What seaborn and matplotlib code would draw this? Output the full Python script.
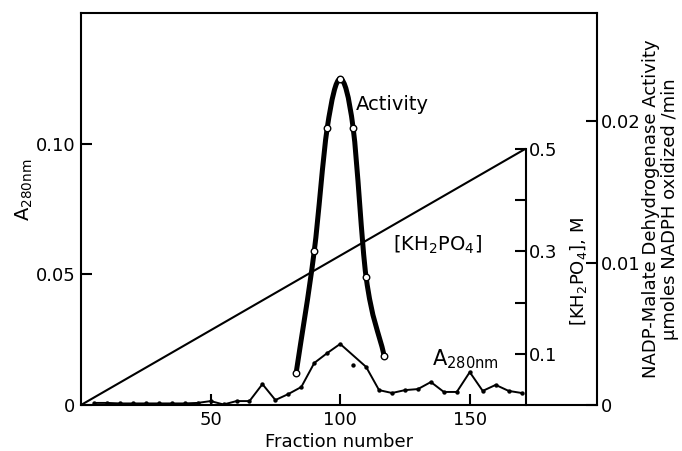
import numpy as np
import pandas as pd
import matplotlib
matplotlib.use("Agg")
import matplotlib.pyplot as plt
from matplotlib.path import Path
from matplotlib.patches import PathPatch
import seaborn as sns

# ---------------- data ----------------
a280_fraction = [5, 10, 15, 20, 25, 30, 35, 40, 45, 50, 55, 60, 65, 70, 75, 80, 85,
                 90, 95, 100, 105, 110, 115, 120, 125, 130, 135, 140, 145, 150,
                 155, 160, 165, 170]
a280_value = [0.0008, 0.0008, 0.0006, 0.0006, 0.0006, 0.0006, 0.0006, 0.0006, 0.0008,
              0.0015, 0.0002, 0.0015, 0.0015, 0.0080, 0.0019, 0.0042, 0.0069,
              0.0161, 0.0199, 0.0234, 0.0153, 0.0146, 0.0057, 0.0046, 0.0057,
              0.0061, 0.0088, 0.0050, 0.0050, 0.0126, 0.0054, 0.0077, 0.0054, 0.0046]
a280_outliers = [105]          # dot drawn off the hand-drawn A280 line

activity_fraction = [83, 90, 95, 100, 105, 110, 117]
activity_value = [0.00225, 0.01084, 0.01949, 0.02294, 0.01949, 0.00900, 0.00345]

salt_fraction = [0, 171.4]
salt_molar = [0.0, 0.5]

x_ticks = [50, 100, 150]
a280_ticks = [0, 0.05, 0.10]
a280_ticklabels = ["0", "0.05", "0.10"]
salt_ticks = [0.1, 0.2, 0.3, 0.4, 0.5]
salt_ticklabels = ["0.1", "", "0.3", "", "0.5"]
act_ticks = [0, 0.01, 0.02]
act_ticklabels = ["0", "0.01", "0.02"]

# ---------------- style ----------------
sns.set_style("ticks")
plt.rcParams["font.family"] = ["DejaVu Sans"]
plt.rcParams["mathtext.fontset"] = "dejavusans"
plt.rcParams["axes.linewidth"] = 1.5
for key in ("text.color", "axes.labelcolor", "xtick.color", "ytick.color",
            "xtick.labelcolor", "ytick.labelcolor", "axes.edgecolor"):
    plt.rcParams[key] = "black"
FS = 13

fig = plt.figure(figsize=(6.82, 4.51), dpi=100)
ax = fig.add_axes([0.1188, 0.102, 0.7562, 0.8698])
ax_salt = ax.twinx()
ax_act = ax.twinx()

# ---------------- marks ----------------
# salt gradient
sns.lineplot(x=salt_fraction, y=salt_molar, ax=ax_salt, color="black", lw=1.5)

# A280 line and dots
a280 = pd.DataFrame({"fraction": a280_fraction, "value": a280_value})
line_df = a280[~a280["fraction"].isin(a280_outliers)]
sns.lineplot(data=line_df, x="fraction", y="value", ax=ax, color="black", lw=1.4,
             sort=True)
sns.scatterplot(data=a280, x="fraction", y="value", ax=ax, color="black", s=10,
                edgecolor="black", linewidth=0, zorder=4)

# activity: smooth thick curve (cubic Hermite segments) through the measured points
px = np.asarray(activity_fraction, float)
py = np.asarray(activity_value, float)
n = len(px)
slope = np.empty(n)
slope[1:-1] = (py[2:] - py[:-2]) / (px[2:] - px[:-2])
slope[0] = (py[1] - py[0]) / (px[1] - px[0])
slope[-1] = (py[-1] - py[-2]) / (px[-1] - px[-2])
verts = [(px[0], py[0])]
codes = [Path.MOVETO]
for i in range(n - 1):
    h = px[i + 1] - px[i]
    verts += [(px[i] + h / 3, py[i] + slope[i] * h / 3),
              (px[i + 1] - h / 3, py[i + 1] - slope[i + 1] * h / 3),
              (px[i + 1], py[i + 1])]
    codes += [Path.CURVE4, Path.CURVE4, Path.CURVE4]
ax_act.add_patch(PathPatch(Path(verts, codes), fill=False, lw=3.6, color="black",
                           capstyle="round", transform=ax_act.transData, zorder=3))
sns.scatterplot(x=activity_fraction, y=activity_value, ax=ax_act, s=22,
                facecolor="white", edgecolor="black", linewidth=1.0, zorder=5)

# ---------------- axes styling ----------------
for a in (ax, ax_salt, ax_act):
    a.patch.set_visible(False)
    a.set_xlabel("")
    a.set_ylabel("")
    for s in a.spines.values():
        s.set_linewidth(1.5)
        s.set_color("black")

# main axis (A280)
ax.set_xlim(0, 199)
ax.set_ylim(0, 0.1503)
ax.set_xticks(x_ticks)
ax.set_xticklabels([str(t) for t in x_ticks])
ax.set_yticks(a280_ticks)
ax.set_yticklabels(a280_ticklabels)
ax.tick_params(direction="in", length=8, width=1.5, labelsize=FS, pad=4,
               colors="black")
ax.spines["right"].set_visible(False)
ax.set_xlabel("Fraction number", fontsize=FS, labelpad=3, color="black")

# salt gradient axis (inner right spine)
ax_salt.set_ylim(0, 0.766)
ax_salt.spines["right"].set_position(("axes", 0.8623))
ax_salt.spines["right"].set_bounds(0, 0.5)
for k in ("left", "top", "bottom"):
    ax_salt.spines[k].set_visible(False)
ax_salt.set_yticks(salt_ticks)
ax_salt.set_yticklabels(salt_ticklabels)
ax_salt.tick_params(axis="y", direction="in", length=8, width=1.5, labelsize=FS, pad=2,
                    colors="black")

# activity axis (outer right spine)
ax_act.set_ylim(0, 0.0276)
for k in ("left", "top", "bottom"):
    ax_act.spines[k].set_visible(False)
ax_act.set_yticks(act_ticks)
ax_act.set_yticklabels(act_ticklabels)
ax_act.tick_params(axis="y", direction="in", length=8, width=1.5, labelsize=FS, pad=3,
                   colors="black")

# axis titles placed as rotated text (centred on their columns)
ax.text(-0.11, 0.55, r"$\mathrm{A}_{\mathrm{280nm}}$", transform=ax.transAxes,
        rotation=90, ha="center", va="center", fontsize=FS + 1, color="black")
ax.text(0.965, 0.34, r"$\left[\mathrm{KH_2PO_4}\right]$, M", transform=ax.transAxes,
        rotation=90, ha="center", va="center", fontsize=FS, color="black")
ax.text(1.124, 0.50, "NADP-Malate Dehydrogenase Activity\n\u00b5moles NADPH oxidized /min",
        transform=ax.transAxes, rotation=90, ha="center", va="center",
        fontsize=FS, linespacing=1.1, multialignment="center", color="black")

# ---------------- in-plot labels ----------------
ax.text(106, 0.115, "Activity", fontsize=FS + 1, ha="left", va="center", color="black")
ax.text(120.4, 0.0613, r"$\left[\mathrm{KH_2PO_4}\right]$", fontsize=FS + 1, ha="left",
        va="center", color="black")
ax.text(135.5, 0.0175, r"$\mathrm{A}_{\mathrm{280nm}}$", fontsize=FS + 2, ha="left",
        va="center", color="black")

fig.savefig("out.png", dpi=100)
